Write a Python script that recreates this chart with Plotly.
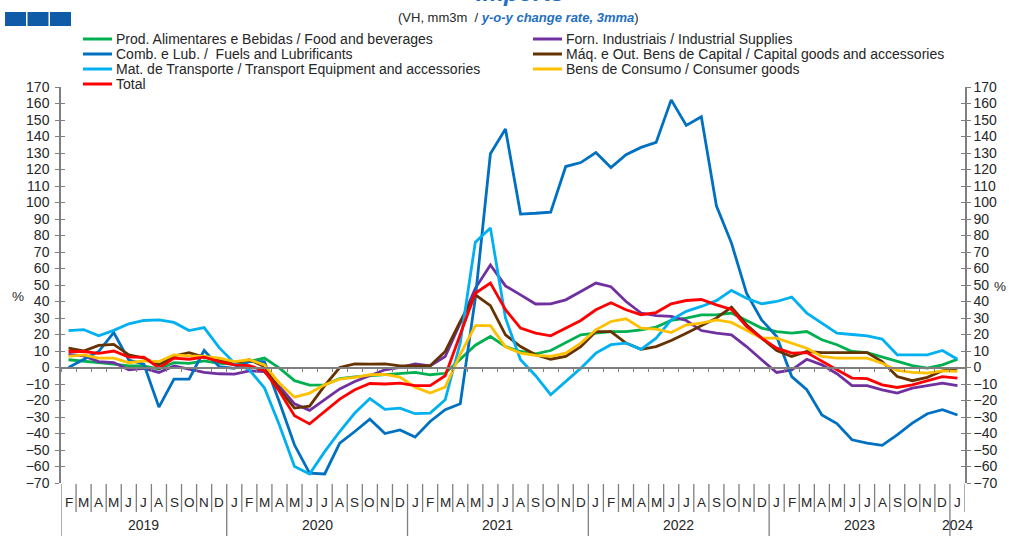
import plotly.graph_objects as go

# ---------------- data ----------------
months = ["F", "M", "A", "M", "J", "J", "A", "S", "O", "N", "D"] + \
         ["J", "F", "M", "A", "M", "J", "J", "A", "S", "O", "N", "D"] * 4 + ["J"]
years = ["2019", "2020", "2021", "2022", "2023", "2024"]
year_first = [0, 11, 23, 35, 47, 59]
year_last = [10, 22, 34, 46, 58, 59]

food = [4.7, 3.6, 2.9, 2.0, 1.0, 1.0, -1.0, 3.0, 2.5, 4.0, 2.5,
        2.0, 3.6, 5.7, -0.4, -8.0, -10.7, -10.5, -6.8, -5.7, -5.0, -4.2, -3.8,
        -3.0, -4.4, -3.5, 5.0, 13.5, 18.8, 12.7, 9.7, 8.3, 10.3, 14.8, 19.8,
        20.8, 21.8, 21.8, 22.8, 24.5, 28.5, 29.9, 31.9, 31.9, 33.0, 28.5, 23.9,
        21.8, 20.8, 21.8, 16.8, 13.8, 9.7, 9.0, 6.3, 4.0, 1.2, -0.4, 1.6,
        5.0]
industrial = [8.0, 7.0, 3.6, 3.0, -1.4, -0.5, -3.0, 1.0, -1.0, -3.0, -3.8,
              -4.0, -2.0, -2.5, -11.5, -22.0, -26.0, -19.6, -13.0, -8.5, -5.0, -1.4, 0.0,
              2.2, 1.0, 6.7, 27.0, 48.0, 62.2, 49.5, 44.0, 38.5, 38.6, 41.0, 46.0,
              51.2, 49.0, 40.0, 33.0, 31.5, 31.0, 28.5, 22.4, 20.8, 19.8, 12.7, 4.7,
              -3.0, -1.4, 5.0, 1.6, -3.8, -11.0, -11.0, -13.5, -15.5, -12.5, -11.0, -9.5,
              -11.0]
fuels = [0.0, 5.0, 9.7, 21.2, 4.5, 2.0, -24.0, -7.0, -7.0, 10.3, 0.5,
         -0.5, 3.6, 3.6, -21.0, -47.0, -64.0, -64.5, -45.8, -38.8, -31.3, -40.0, -37.8,
         -42.2, -32.7, -25.6, -22.0, 42.0, 129.5, 144.5, 93.0, 93.5, 94.2, 121.8, 124.2,
         130.3, 121.2, 129.0, 133.4, 136.4, 162.2, 146.7, 152.0, 98.0, 75.4, 45.0, 28.9,
         18.8, -5.5, -13.5, -28.7, -34.0, -43.8, -45.8, -47.2, -40.8, -33.7, -28.0, -25.6,
         -28.8]
capital = [11.7, 10.0, 13.4, 14.0, 7.7, 5.7, 1.6, 7.0, 9.0, 6.3, 4.3,
           2.5, 4.7, 0.6, -13.5, -24.6, -23.4, -11.0, 0.0, 2.2, 2.0, 2.2, 1.0,
           1.0, 1.0, 9.7, 28.0, 44.0, 37.5, 19.8, 12.7, 7.7, 5.0, 6.7, 12.7,
           21.8, 21.8, 14.8, 11.0, 12.7, 16.4, 20.8, 25.3, 29.9, 36.6, 25.9, 17.8,
           10.3, 6.7, 9.7, 9.0, 9.0, 9.0, 9.0, 3.6, -5.5, -8.0, -6.0, -2.0,
           -0.4]
transport = [22.4, 23.0, 19.2, 22.5, 26.5, 28.5, 28.9, 27.3, 22.4, 24.2, 12.0,
             2.8, -1.4, -12.3, -35.0, -60.0, -64.5, -51.0, -38.8, -27.6, -18.8, -25.4, -24.6,
             -28.0, -27.6, -19.6, 15.0, 76.0, 84.5, 30.0, 4.7, -5.0, -16.5, -8.5, -0.4,
             8.7, 13.8, 14.8, 11.0, 17.8, 28.9, 34.0, 37.0, 40.5, 46.7, 42.0, 38.6,
             40.0, 42.7, 33.0, 26.9, 20.8, 20.0, 19.2, 17.2, 7.7, 7.7, 7.7, 10.3,
             5.0]
consumer = [6.7, 7.7, 5.7, 5.7, 2.9, 4.0, 3.6, 7.7, 7.0, 6.7, 5.7,
            3.6, 4.7, 1.6, -9.5, -18.0, -15.5, -10.5, -7.0, -6.0, -4.4, -4.2, -5.8,
            -11.9, -15.5, -11.9, 8.0, 25.4, 25.4, 12.5, 8.7, 7.4, 6.7, 8.7, 14.8,
            22.8, 27.9, 29.5, 23.9, 23.2, 21.2, 25.9, 26.9, 28.9, 27.3, 22.8, 17.8,
            17.8, 14.8, 11.7, 6.7, 5.7, 5.7, 5.7, 2.6, -1.8, -3.0, -3.4, -2.0,
            -2.4]
total = [9.7, 9.7, 8.6, 10.0, 6.3, 6.3, -0.4, 5.7, 5.0, 6.3, 3.6,
         1.6, 1.2, -2.0, -14.5, -29.2, -34.2, -26.6, -19.2, -13.5, -9.7, -10.0, -9.5,
         -11.0, -11.0, -5.0, 20.0, 45.0, 51.2, 35.0, 23.9, 20.8, 19.2, 23.9, 28.5,
         35.0, 39.2, 35.0, 32.0, 33.3, 38.6, 40.6, 41.2, 38.0, 35.2, 24.8, 17.8,
         11.7, 8.7, 9.0, 3.6, -1.4, -6.4, -6.8, -10.5, -12.1, -10.5, -8.0, -5.5,
         -6.4]

series_names = [
    "Prod. Alimentares e Bebidas / Food and beverages",
    "Forn. Industriais / Industrial Supplies",
    "Comb. e Lub. /  Fuels and Lubrificants",
    "Máq. e Out. Bens de Capital / Capital goods and accessories",
    "Mat. de Transporte / Transport Equipment and accessories",
    "Bens de Consumo / Consumer goods",
    "Total",
]
series_values = [food, industrial, fuels, capital, transport, consumer, total]
series_colors = ["#00B050", "#7030A0", "#0070C0", "#663300", "#00B0F0", "#FFC000", "#FF0000"]
# legend slot (column, row) for each series
legend_slots = [(0, 0), (1, 0), (0, 1), (1, 1), (0, 2), (1, 2), (0, 3)]

W, H = 1009, 536
ML, MR, MT, MB = 61, 44, 87, 53
PW, PH = W - ML - MR, H - MT - MB
YMIN, YMAX = -70, 170


def px_x(px):
    return (px - ML) / PW


def px_y(py):
    return (H - MB - py) / PH


idx = list(range(len(months)))
FONT = "Liberation Sans, Arial, sans-serif"
TXT = "#262626"

fig = go.Figure()
for name, vals, col in zip(series_names, series_values, series_colors):
    fig.add_trace(go.Scatter(x=idx, y=vals, name=name, mode="lines",
                             line=dict(color=col, width=2.8), showlegend=False,
                             hovertemplate="%{y}<extra>" + name + "</extra>"))

# invisible helper traces so the extra axes are drawn
for ya in ["y2", "y3", "y4"]:
    fig.add_trace(go.Scatter(x=idx, y=total, yaxis=ya, mode="lines",
                             line=dict(width=0, color="rgba(0,0,0,0)"),
                             showlegend=False, hoverinfo="skip"))

axis_gray = "#7f7f7f"
tickfont = dict(family=FONT, size=14, color=TXT)
zero_pos = (0 - YMIN) / (YMAX - YMIN)

fig.update_layout(
    width=W, height=H,
    margin=dict(l=ML, r=MR, t=MT, b=MB, autoexpand=False),
    paper_bgcolor="white", plot_bgcolor="white",
    font=dict(family=FONT, color=TXT),
    showlegend=False,
    xaxis=dict(range=[-0.5, len(months) - 0.5], anchor="free", position=zero_pos,
               showgrid=False, zeroline=False, showline=True, linecolor=axis_gray,
               linewidth=1.5, ticks="outside", ticklen=4, tickwidth=1.2,
               tickcolor=axis_gray,
               tickvals=[i - 0.5 for i in range(len(months) + 1)],
               showticklabels=False),
    yaxis=dict(range=[YMIN, YMAX], dtick=10, tick0=0, showgrid=False, zeroline=False,
               showline=True, linecolor=axis_gray, linewidth=1.5,
               ticks="outside", ticklen=4, tickwidth=1.2, tickcolor=axis_gray,
               tickfont=tickfont, ticklabelstandoff=3),
    yaxis2=dict(range=[YMIN, YMAX], dtick=10, tick0=0, overlaying="y", side="right",
                anchor="x", showgrid=False, zeroline=False, showline=True,
                linecolor=axis_gray, linewidth=1.5, ticks="outside", ticklen=4,
                tickwidth=1.2, tickcolor=axis_gray, tickfont=tickfont),
    yaxis3=dict(range=[YMIN, YMAX], dtick=10, tick0=0, overlaying="y", side="left",
                anchor="x", showgrid=False, zeroline=False, showline=False,
                ticks="inside", ticklen=4, tickwidth=1.2, tickcolor=axis_gray,
                showticklabels=False),
    yaxis4=dict(range=[YMIN, YMAX], dtick=10, tick0=0, overlaying="y", side="right",
                anchor="x", showgrid=False, zeroline=False, showline=False,
                ticks="inside", ticklen=4, tickwidth=1.2, tickcolor=axis_gray,
                showticklabels=False),
)

shapes = []
ann = []
# logo squares
for x0 in [5, 27.5, 50]:
    shapes.append(dict(type="rect", xref="paper", yref="paper",
                       x0=px_x(x0), x1=px_x(x0 + 21), y0=px_y(26), y1=px_y(12),
                       fillcolor="#0F5BA7", line=dict(width=0)))
# legend (two columns)
col_x = [83, 533]
row_y = [39, 54, 69, 84]
for name, col, (c, r) in zip(series_names, series_colors, legend_slots):
    lx, ly = col_x[c], row_y[r]
    shapes.append(dict(type="line", xref="paper", yref="paper",
                       x0=px_x(lx), x1=px_x(lx + 29), y0=px_y(ly), y1=px_y(ly),
                       line=dict(color=col, width=3)))
    ann.append(dict(x=px_x(lx + 31), y=px_y(ly), xref="paper", yref="paper", text=name,
                    showarrow=False, xanchor="left", yanchor="middle",
                    font=dict(family=FONT, size=14, color=TXT)))
# month separators and year separators below the plot
year_bounds = [f - 0.5 for f in year_first]
for i in range(len(months) + 1):
    b = i - 0.5
    y_bottom = px_y(536) if b in year_bounds else px_y(512)
    shapes.append(dict(type="line", xref="x", yref="paper", x0=b, x1=b,
                       y0=px_y(484), y1=y_bottom,
                       line=dict(color=axis_gray, width=1.3)))
fig.update_layout(shapes=shapes)

for i, m in enumerate(months):
    ann.append(dict(x=i, y=px_y(502), xref="x", yref="paper", text=m, showarrow=False,
                    xanchor="center", yanchor="middle",
                    font=dict(family=FONT, size=13.5, color=TXT)))
for yl, a, b in zip(years, year_first, year_last):
    ann.append(dict(x=(a + b) / 2, y=px_y(525), xref="x", yref="paper", text=yl,
                    showarrow=False, xanchor="center", yanchor="middle",
                    font=dict(family=FONT, size=14, color=TXT)))
ann.append(dict(x=px_x(18), y=px_y(296), xref="paper", yref="paper", text="%",
                showarrow=False, xanchor="center", yanchor="middle",
                font=dict(family=FONT, size=13.5, color=TXT)))
ann.append(dict(x=px_x(1000), y=px_y(286), xref="paper", yref="paper", text="%",
                showarrow=False, xanchor="center", yanchor="middle",
                font=dict(family=FONT, size=13.5, color=TXT)))
ann.append(dict(x=px_x(518), y=px_y(17), xref="paper", yref="paper",
                text="(VH, mm3m  / <b><i><span style='color:#1F6FC0'>y-o-y change rate, 3mma</span></i></b>)",
                showarrow=False, xanchor="center", yanchor="middle",
                font=dict(family=FONT, size=13, color=TXT)))
ann.append(dict(x=px_x(520), y=px_y(-7), xref="paper", yref="paper",
                text="<b><i>Imports</i></b>", showarrow=False, xanchor="center",
                yanchor="middle", font=dict(family=FONT, size=24, color="#1F6FC0")))
fig.update_layout(annotations=ann)

fig.write_html("out.html", config={"displayModeBar": False},
               post_script="document.body.style.margin='0';document.body.style.overflow='hidden';")
